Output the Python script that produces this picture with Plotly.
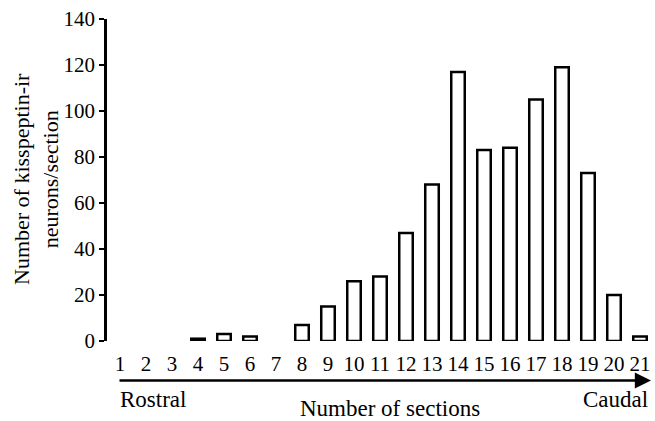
import plotly.graph_objects as go

sections = list(range(1, 22))
counts = [0, 0, 0, 1, 3, 2, 0, 7, 15, 26, 28, 47, 68, 117, 83, 84, 105, 119, 73, 20, 2]
y_ticks = [0, 20, 40, 60, 80, 100, 120, 140]

FONT = "Liberation Serif"

line_widths = [0 if v == 0 else 2.5 for v in counts]

fig = go.Figure()
fig.add_trace(go.Bar(
    x=sections, y=counts, width=0.52,
    marker=dict(color="white", line=dict(color="black", width=line_widths)),
))

fig.update_layout(
    width=655, height=421,
    margin=dict(l=107, r=2, t=19, b=80),
    paper_bgcolor="white", plot_bgcolor="white",
    showlegend=False,
    font=dict(family=FONT, size=21, color="black"),
    xaxis=dict(
        range=[0.5, 21.5], tickmode="array", tickvals=sections,
        ticktext=[str(s) for s in sections],
        showline=False, showgrid=False, zeroline=False, ticks="",
        ticklabelstandoff=8,
        tickfont=dict(family=FONT, size=21, color="black"),
    ),
    yaxis=dict(
        range=[0, 140], tickmode="array", tickvals=y_ticks,
        showline=True, linecolor="black", linewidth=2.5,
        ticks="outside", ticklen=5, tickwidth=2, tickcolor="black",
        showgrid=False, zeroline=False,
        tickfont=dict(family=FONT, size=21, color="black"),
    ),
)

# y-axis title
fig.add_annotation(
    x=(36 - 107) / 546, y=(341 - 179) / 322, xref="paper", yref="paper",
    text="Number of kisspeptin-ir<br>neurons/section", textangle=-90,
    showarrow=False, font=dict(family=FONT, size=22, color="black"),
    xanchor="center", yanchor="middle",
)

# arrow
fig.add_annotation(
    x=(651 - 107) / 546, y=(341 - 380.5) / 322, xref="paper", yref="paper",
    ax=-533, ay=0, axref="pixel", ayref="pixel",
    text="", showarrow=True, arrowhead=2, arrowsize=1.2,
    arrowwidth=2.7, arrowcolor="black",
)

fig.add_annotation(
    x=(118 - 107) / 546, y=(341 - 399) / 322, xref="paper", yref="paper",
    text="Rostral", showarrow=False, xanchor="left", yanchor="middle",
    font=dict(family=FONT, size=23, color="black"),
)
fig.add_annotation(
    x=(650 - 107) / 546, y=(341 - 399) / 322, xref="paper", yref="paper",
    text="Caudal", showarrow=False, xanchor="right", yanchor="middle",
    font=dict(family=FONT, size=23, color="black"),
)
fig.add_annotation(
    x=(390 - 107) / 546, y=(341 - 408) / 322, xref="paper", yref="paper",
    text="Number of sections", showarrow=False, xanchor="center", yanchor="middle",
    font=dict(family=FONT, size=23, color="black"),
)

fig.write_html(
    "out.html",
    config={"displayModeBar": False},
    post_script="document.body.style.margin='0';document.body.style.overflow='hidden';",
)
